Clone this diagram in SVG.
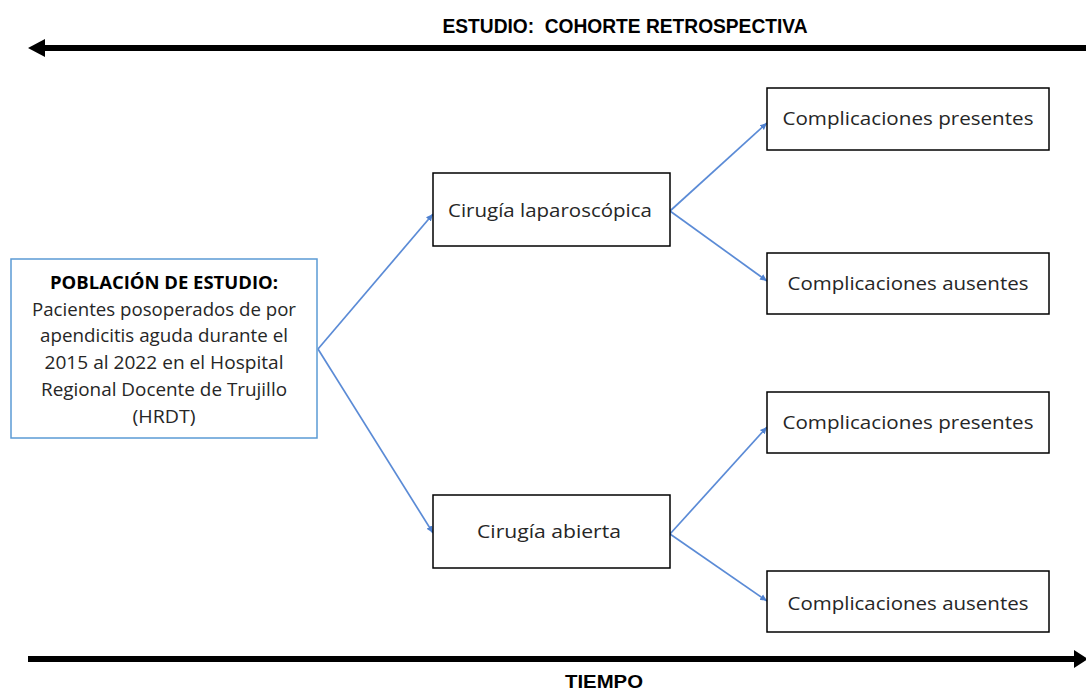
<svg xmlns="http://www.w3.org/2000/svg" width="1086" height="692" viewBox="0 0 1086 692">
<defs>
<marker id="ah" markerWidth="8" markerHeight="8" refX="7" refY="4" orient="auto" markerUnits="userSpaceOnUse">
<path d="M0,0.8 L7,4 L0,7.2 z" fill="#4F81D0"/>
</marker>
</defs>
<style>
.box{fill:#fff;stroke:#000;stroke-width:1.5}
.pop{fill:#fff;stroke:#5B9BD5;stroke-width:1.5}
.t{font-family:"Open Sans","Liberation Sans",sans-serif;font-size:18px;fill:#262626;text-anchor:middle}
.b{font-weight:bold;fill:#000}
.h{font-family:"Liberation Sans",sans-serif;font-weight:bold;font-size:20px;fill:#000;text-anchor:middle}
.c{stroke:#5B8BD6;stroke-width:1.7;fill:none;marker-end:url(#ah)}
</style>
<rect width="1086" height="692" fill="#fff"/>
<g id="axis-top">
<line x1="40" y1="48" x2="1086" y2="48" stroke="#000" stroke-width="6"/>
<path d="M28,48 L45,39 L45,57 z" fill="#000"/>
<text class="h" x="625" y="33" textLength="365" lengthAdjust="spacingAndGlyphs" xml:space="preserve">ESTUDIO:  COHORTE RETROSPECTIVA</text>
</g>
<g id="axis-bottom">
<line x1="28" y1="659" x2="1075" y2="659" stroke="#000" stroke-width="6"/>
<path d="M1088,659 L1074,650 L1074,668 z" fill="#000"/>
<text class="h" x="604" y="688" style="font-size:18px" textLength="78" lengthAdjust="spacingAndGlyphs">TIEMPO</text>
</g>
<g id="connectors">
<line class="c" x1="318" y1="349" x2="433" y2="214"/>
<line class="c" x1="318" y1="349" x2="433" y2="533"/>
<line class="c" x1="670" y1="211" x2="767" y2="123"/>
<line class="c" x1="670" y1="211" x2="767" y2="281"/>
<line class="c" x1="670" y1="534" x2="767" y2="427"/>
<line class="c" x1="670" y1="534" x2="767" y2="601"/>
</g>
<g id="poblacion">
<rect class="pop" x="11" y="259" width="306" height="179"/>
<text class="t b" x="164" y="289" textLength="228" lengthAdjust="spacingAndGlyphs">POBLACIÓN DE ESTUDIO:</text>
<text class="t" x="164" y="316" textLength="264" lengthAdjust="spacingAndGlyphs">Pacientes posoperados de por</text>
<text class="t" x="164" y="342" textLength="248" lengthAdjust="spacingAndGlyphs">apendicitis aguda durante el</text>
<text class="t" x="164" y="369" textLength="239" lengthAdjust="spacingAndGlyphs">2015 al 2022 en el Hospital</text>
<text class="t" x="164" y="396" textLength="246" lengthAdjust="spacingAndGlyphs">Regional Docente de Trujillo</text>
<text class="t" x="164" y="423" textLength="63" lengthAdjust="spacingAndGlyphs">(HRDT)</text>
</g>
<g id="laparoscopica">
<rect class="box" x="433" y="173" width="237" height="73"/>
<text class="t" x="550" y="217" textLength="204" lengthAdjust="spacingAndGlyphs">Cirugía laparoscópica</text>
</g>
<g id="abierta">
<rect class="box" x="433" y="495" width="237" height="73"/>
<text class="t" x="549" y="538" textLength="144" lengthAdjust="spacingAndGlyphs">Cirugía abierta</text>
</g>
<g id="lap-presentes">
<rect class="box" x="767" y="88" width="282" height="62"/>
<text class="t" x="908" y="125" textLength="251" lengthAdjust="spacingAndGlyphs">Complicaciones presentes</text>
</g>
<g id="lap-ausentes">
<rect class="box" x="767" y="253" width="282" height="61"/>
<text class="t" x="908" y="290" textLength="241" lengthAdjust="spacingAndGlyphs">Complicaciones ausentes</text>
</g>
<g id="abi-presentes">
<rect class="box" x="767" y="392" width="282" height="61"/>
<text class="t" x="908" y="429" textLength="251" lengthAdjust="spacingAndGlyphs">Complicaciones presentes</text>
</g>
<g id="abi-ausentes">
<rect class="box" x="767" y="571" width="282" height="61"/>
<text class="t" x="908" y="610" textLength="241" lengthAdjust="spacingAndGlyphs">Complicaciones ausentes</text>
</g>
</svg>
